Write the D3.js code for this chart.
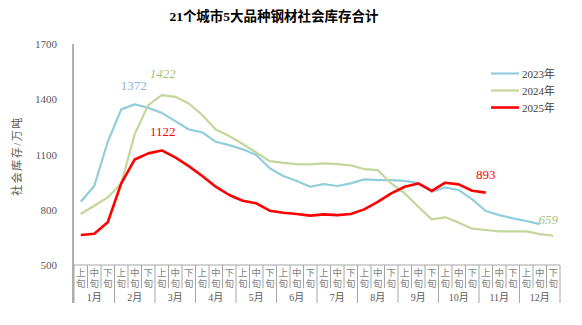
<!DOCTYPE html>
<html>
<head>
<meta charset="utf-8">
<script src="https://cdn.jsdelivr.net/npm/d3@7/dist/d3.min.js"></script>
<style>
  html, body { margin: 0; padding: 0; background: #fff; }
  svg { display: block; }
  text { font-family: "Liberation Serif", "Noto Sans CJK SC", serif; }
</style>
</head>
<body>
<svg id="chart" width="582" height="325"></svg>
<script>
// Ten-day periods of each month and the month names
const months = ["1月","2月","3月","4月","5月","6月","7月","8月","9月","10月","11月","12月"];
const periods = ["上旬","中旬","下旬"];
const yTicks = [500, 800, 1100, 1400, 1700];

// Social inventory of 5 major steel products in 21 cities (10k tonnes)
const series2023 = [843, 929, 1169, 1345, 1372, 1354, 1326, 1281, 1236, 1220, 1169, 1151,
                    1128, 1097, 1025, 983, 956, 925, 939, 929, 943, 965, 961, 961,
                    957, 945, 898, 921, 907, 856, 793, 771, 753, 739, 722];
const series2024 = [777, 822, 867, 943, 1211, 1368, 1422, 1413, 1377, 1315, 1236, 1200,
                    1157, 1111, 1064, 1055, 1048, 1046, 1052, 1048, 1041, 1021, 1015, 943,
                    889, 816, 748, 759, 730, 697, 690, 683, 683, 683, 668, 659];
const series2025 = [663, 670, 732, 943, 1073, 1106, 1122, 1084, 1037, 983, 925, 880,
                    849, 835, 795, 784, 777, 768, 775, 771, 777, 802, 843, 889,
                    925, 943, 902, 947, 938, 903, 893];

const seriesNames = ["2023年", "2024年", "2025年"];
const seriesColors = ["#92CDDC", "#C3D69B", "#FF0000"];
const seriesWidths = [2.2, 2.2, 2.6];

const svg = d3.select("#chart");

const slots = d3.range(36);
const x = d3.scaleBand().domain(slots).range([74, 560]).paddingInner(0).paddingOuter(0);
const y = d3.scaleLinear().domain([500, 1700]).range([265, 44]);
const cx = i => x(i) + x.bandwidth() / 2;

// Title
svg.append("text")
  .attr("x", 274).attr("y", 21)
  .attr("text-anchor", "middle")
  .attr("font-size", 13.5).attr("font-weight", "bold")
  .attr("fill", "#000")
  .text("21个城市5大品种钢材社会库存合计");

// Y axis: line and tick labels, no tick marks
const yAxis = d3.axisLeft(y).tickValues(yTicks).tickFormat(d3.format("d")).tickSize(0).tickPadding(16);
const yG = svg.append("g").attr("transform", "translate(73,0)").call(yAxis);
yG.select(".domain").attr("stroke", "#868686").attr("stroke-width", 1.3).attr("d", `M0,${y(1700)}V303`);
yG.selectAll("text").attr("font-size", 11).attr("fill", "#595959")
  .attr("font-family", "'Liberation Serif', serif");

// Y axis title
svg.append("text")
  .attr("transform", "translate(21,156) rotate(-90)")
  .attr("text-anchor", "middle")
  .attr("font-size", 11).attr("fill", "#595959")
  .attr("letter-spacing", 1.5)
  .text("社会库存/万吨");

// X axis: baseline, ten-day dividers and month dividers
const xG = svg.append("g");
xG.append("line")
  .attr("x1", 73).attr("x2", x.range()[1])
  .attr("y1", y(500)).attr("y2", y(500))
  .attr("stroke", "#A6A6A6").attr("stroke-width", 1.2);
d3.range(37).forEach(k => {
  const xx = k < 36 ? x(k) : x.range()[1];
  xG.append("line")
    .attr("x1", xx).attr("x2", xx)
    .attr("y1", y(500)).attr("y2", k % 3 === 0 ? 303 : 288)
    .attr("stroke", "#A6A6A6").attr("stroke-width", 1);
});
slots.forEach(i => {
  const p = periods[i % 3];
  xG.append("text").attr("x", cx(i)).attr("y", 275.5)
    .attr("text-anchor", "middle").attr("font-size", 9.5).attr("fill", "#7F7F7F")
    .text(p[0]);
  xG.append("text").attr("x", cx(i)).attr("y", 287)
    .attr("text-anchor", "middle").attr("font-size", 9.5).attr("fill", "#7F7F7F")
    .text(p[1]);
});
months.forEach((m, j) => {
  xG.append("text").attr("x", cx(j * 3 + 1)).attr("y", 301)
    .attr("text-anchor", "middle").attr("font-size", 10).attr("fill", "#595959")
    .text(m);
});

// Lines
const line = d3.line().x((d, i) => cx(i)).y(d => y(d));
[series2023, series2024, series2025].forEach((s, k) => {
  svg.append("path")
    .datum(s)
    .attr("fill", "none")
    .attr("stroke", seriesColors[k])
    .attr("stroke-width", seriesWidths[k])
    .attr("stroke-linejoin", "round")
    .attr("d", line);
});

// Value labels
const peak2023 = d3.maxIndex(series2023);
const peak2024 = d3.maxIndex(series2024);
const peak2025 = d3.maxIndex(series2025);
const last2024 = series2024.length - 1;
const last2025 = series2025.length - 1;
const labels = [
  { i: peak2023, v: series2023[peak2023], dx: -1, dy: -14, color: "#8DB4E2", italic: false },
  { i: peak2024, v: series2024[peak2024], dx: 1, dy: -17, color: "#A9C47F", italic: true },
  { i: peak2025, v: series2025[peak2025], dx: 1, dy: -14, color: "#FF0000", italic: false },
  { i: last2025, v: series2025[last2025], dx: 0, dy: -14, color: "#FF0000", italic: false },
  { i: last2024, v: series2024[last2024], dx: -5, dy: -12, color: "#A9C47F", italic: true }
];
labels.forEach(l => {
  svg.append("text")
    .attr("x", cx(l.i) + l.dx).attr("y", y(l.v) + l.dy)
    .attr("text-anchor", "middle")
    .attr("font-size", 13)
    .attr("font-style", l.italic ? "italic" : "normal")
    .attr("fill", l.color)
    .text(l.v);
});

// Legend
const legend = svg.append("g");
seriesNames.forEach((name, k) => {
  const ly = 73.5 + k * 17;
  legend.append("line")
    .attr("x1", 491).attr("x2", 519)
    .attr("y1", ly).attr("y2", ly)
    .attr("stroke", seriesColors[k]).attr("stroke-width", seriesWidths[k]);
  legend.append("text")
    .attr("x", 522).attr("y", ly + 4)
    .attr("font-size", 11).attr("fill", "#404040")
    .text(name);
});
</script>
</body>
</html>
